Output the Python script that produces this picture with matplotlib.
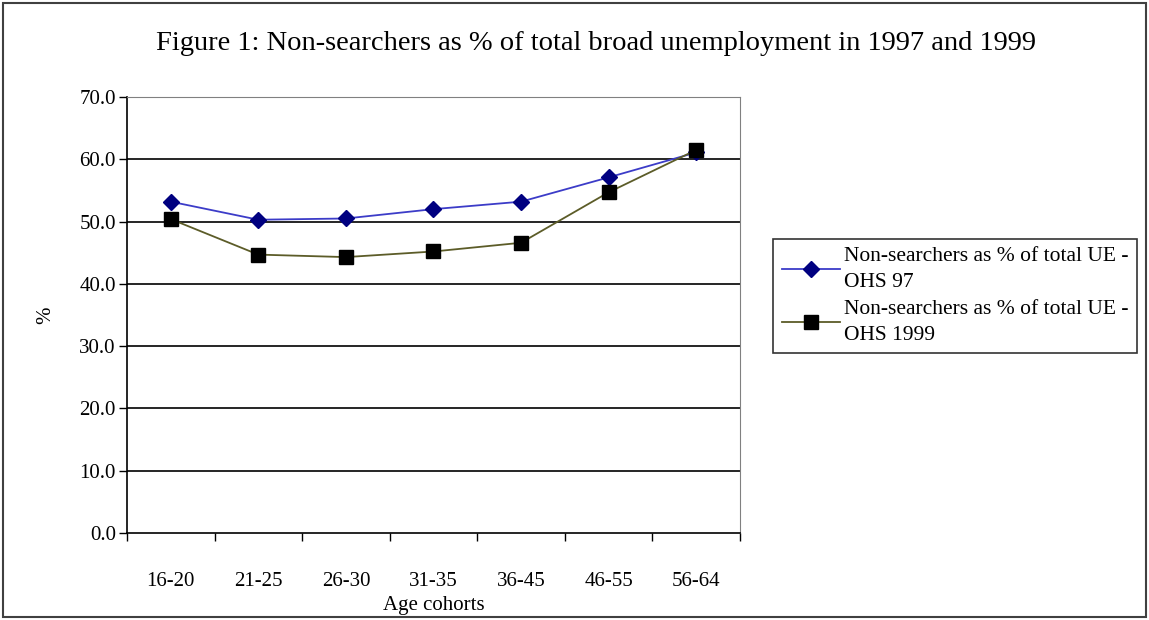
import matplotlib.pyplot as plt
from matplotlib.patches import Rectangle

cohorts = ['16-20', '21-25', '26-30', '31-35', '36-45', '46-55', '56-64']
ohs97 = [53.2, 50.3, 50.5, 52.0, 53.2, 57.1, 61.1]
ohs99 = [50.4, 44.7, 44.3, 45.2, 46.6, 54.7, 61.5]
yticks = [0, 10, 20, 30, 40, 50, 60, 70]

plt.rcParams['font.family'] = ['Liberation Serif', 'DejaVu Serif']

fig = plt.figure(figsize=(11.49, 6.2), dpi=100)
ax = fig.add_axes([0.1105, 0.1403, 0.5335, 0.7032])

x = list(range(len(cohorts)))
ax.plot(x, ohs97, color='#3c3cc8', lw=1.3, marker='D', markersize=8,
        markerfacecolor='#000080', markeredgecolor='#000080',
        label='Non-searchers as % of total UE -\nOHS 97')
ax.plot(x, ohs99, color='#5c5c28', lw=1.3, marker='s', markersize=10.5,
        markerfacecolor='black', markeredgecolor='black',
        label='Non-searchers as % of total UE -\nOHS 1999')

ax.set_xlim(-0.5, 6.5)
ax.set_ylim(0, 70)
ax.set_yticks(yticks)
ax.set_yticklabels(['%.1f' % v for v in yticks], fontsize=15)
ax.set_xticks(x)
ax.set_xticklabels(cohorts, fontsize=15)
ax.set_xticks([i + 0.5 for i in range(-1, 7)], minor=True)
ax.tick_params(axis='x', which='major', length=0, pad=28)
ax.tick_params(axis='x', which='minor', length=6, direction='out', width=1)
ax.tick_params(axis='y', length=6, direction='out', width=1, pad=2)

for v in yticks[1:-1]:
    ax.axhline(v, color='black', lw=1.2, zorder=0)

ax.spines['top'].set_color('#808080')
ax.spines['right'].set_color('#808080')
ax.spines['left'].set_linewidth(1.2)
ax.spines['bottom'].set_linewidth(1.2)

ax.set_xlabel('Age cohorts', fontsize=15, labelpad=4)
ax.set_ylabel('%', fontsize=15, labelpad=17)

fig.text(0.5187, 0.93, 'Figure 1: Non-searchers as % of total broad unemployment in 1997 and 1999',
         ha='center', va='center', fontsize=20.5)

leg = fig.legend(loc='center left', bbox_to_anchor=(0.6728, 0.5226), fontsize=15.5,
                 frameon=True, fancybox=False, edgecolor='black', borderaxespad=0,
                 handlelength=2.7, handletextpad=0.2, borderpad=0.4, labelspacing=0.35)
leg.get_frame().set_linewidth(1.2)
for t in leg.get_texts():
    t.set_linespacing(1.5)

fig.patches.append(Rectangle((0.003, 0.005), 0.994, 0.99, transform=fig.transFigure,
                             fill=False, edgecolor='#404040', lw=1.5))

plt.savefig('out.png')
